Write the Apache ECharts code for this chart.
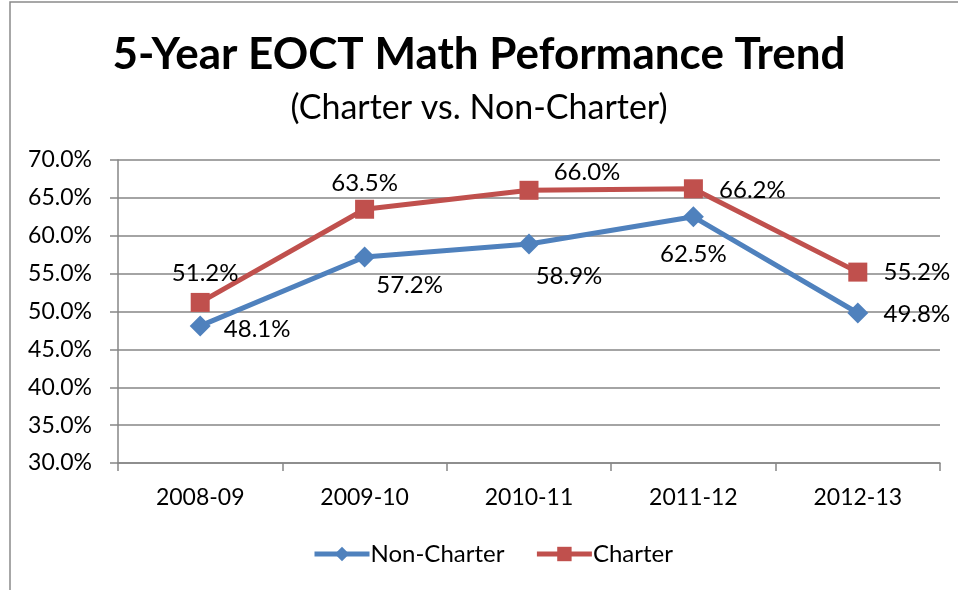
<!DOCTYPE html>
<html>
<head>
<meta charset="utf-8">
<script src="https://cdn.jsdelivr.net/npm/echarts@6/dist/echarts.min.js"></script>
<style>
 html, body { margin: 0; padding: 0; background: #fff; }
 #main { width: 958px; height: 590px; }
</style>
</head>
<body>
<div id="main"></div>
<script>
var years = ['2008-09', '2009-10', '2010-11', '2011-12', '2012-13'];
var nonCharter = [48.1, 57.2, 58.9, 62.5, 49.8];
var charter = [51.2, 63.5, 66.0, 66.2, 55.2];

// label placement (offset from point centre), like the Excel original
var nonCharterOffsets = [[57, 3], [45, 28], [40, 32], [0, 37], [59, 1]];
var charterOffsets = [[5, -29], [0, -26], [58, -18], [59, 1], [59, 0]];

var FONT = 'Lato';

function withLabels(values, offsets) {
 return values.map(function (v, i) {
  return {
   value: v,
   label: { position: 'inside', offset: offsets[i] }
  };
 });
}

var chart = echarts.init(document.getElementById('main'));

var option = {
 backgroundColor: '#fff',
 animation: false,
 textStyle: { fontFamily: FONT },
 graphic: [{
  type: 'rect',
  shape: { x: 10, y: 2, width: 960, height: 600 },
  style: { fill: 'none', stroke: '#8a8a8a', lineWidth: 1.5 },
  silent: true
 }],
 title: [{
  text: '5-Year EOCT Math Peformance Trend',
  left: 'center',
  top: 28,
  textStyle: { fontFamily: FONT, fontSize: 44, fontWeight: 'bold', color: '#000' }
 }, {
  text: '(Charter vs. Non-Charter)',
  left: 'center',
  top: 86,
  textStyle: { fontFamily: FONT, fontSize: 34, fontWeight: 'normal', color: '#000' }
 }],
 legend: {
  top: 542,
  left: 312,
  padding: 0,
  itemWidth: 55,
  itemHeight: 18,
  itemGap: 30,
  lineStyle: { width: 5 },
  textStyle: { fontFamily: FONT, fontSize: 24, color: '#000', padding: [0, 0, 0, -4] },
  data: ['Non-Charter', 'Charter']
 },
 grid: { left: 118, right: 18, top: 160, bottom: 127, containLabel: false },
 xAxis: {
  type: 'category',
  data: years,
  boundaryGap: true,
  axisLine: { show: true, lineStyle: { color: '#868686', width: 1.5 } },
  axisTick: { show: true, length: 8, lineStyle: { color: '#868686', width: 1.5 } },
  axisLabel: { fontFamily: FONT, fontSize: 23, color: '#000', margin: 23 }
 },
 yAxis: {
  type: 'value',
  min: 30,
  max: 70,
  interval: 5,
  axisLine: { show: true, lineStyle: { color: '#868686', width: 1.5 } },
  axisTick: { show: true, length: 8, lineStyle: { color: '#868686', width: 1.5 } },
  axisLabel: {
   fontFamily: FONT, fontSize: 23, color: '#000', margin: 26,
   formatter: function (v) { return v.toFixed(1) + '%'; }
  },
  splitLine: { show: true, lineStyle: { color: '#868686', width: 1.5 } }
 },
 series: [{
  name: 'Non-Charter',
  type: 'line',
  data: withLabels(nonCharter, nonCharterOffsets),
  symbol: 'diamond',
  symbolSize: 21,
  color: '#4F81BD',
  lineStyle: { width: 5, color: '#4F81BD' },
  itemStyle: { color: '#4F81BD' },
  label: {
   show: true, fontFamily: FONT, fontSize: 24, color: '#000',
   formatter: function (p) { return p.value.toFixed(1) + '%'; }
  }
 }, {
  name: 'Charter',
  type: 'line',
  data: withLabels(charter, charterOffsets),
  symbol: 'rect',
  symbolSize: 19,
  color: '#C0504D',
  lineStyle: { width: 5, color: '#C0504D' },
  itemStyle: { color: '#C0504D' },
  label: {
   show: true, fontFamily: FONT, fontSize: 24, color: '#000',
   formatter: function (p) { return p.value.toFixed(1) + '%'; }
  }
 }]
};

chart.setOption(option);
</script>
</body>
</html>
